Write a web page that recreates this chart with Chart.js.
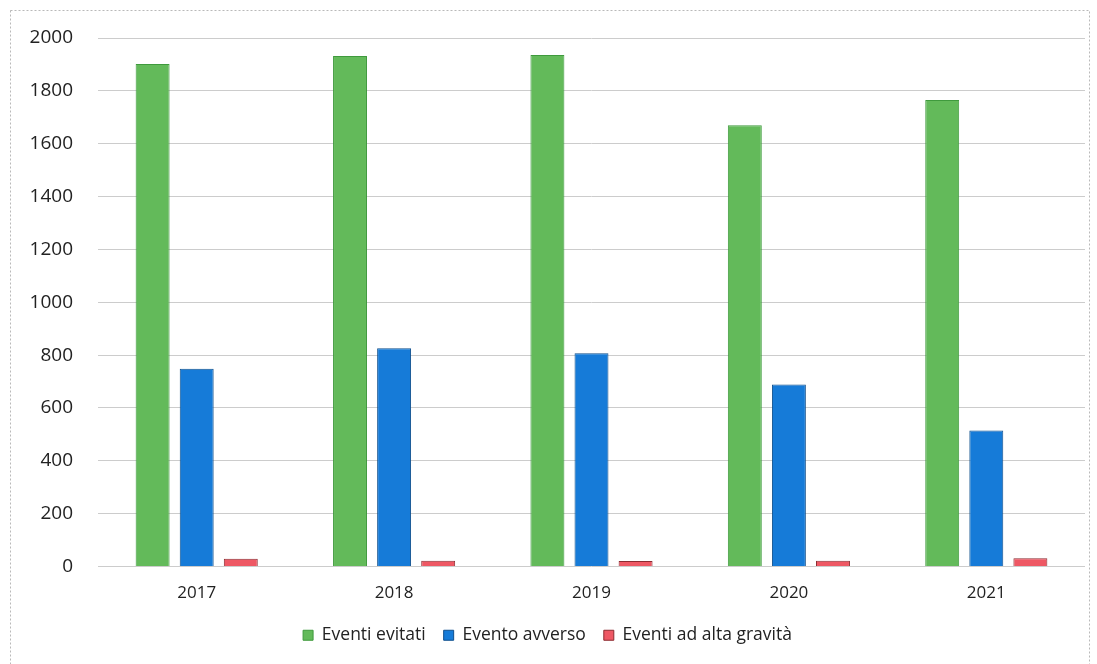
<!DOCTYPE html>
<html lang="it">
<head>
<meta charset="utf-8">
<title>Eventi 2017–2021</title>
<script src="https://cdn.jsdelivr.net/npm/chart.js@4/dist/chart.umd.min.js"></script>
<style>
  html, body { margin: 0; padding: 0; background: #ffffff; }
  #wrap { position: relative; width: 1097px; height: 664px; }
</style>
</head>
<body>
<div id="wrap"><canvas id="chart" width="1097" height="664"></canvas></div>
<script>
// Anni sull'asse delle categorie
const anni = ['2017', '2018', '2019', '2020', '2021'];

// Serie di valori per anno
const eventiEvitati = [1902, 1932, 1936, 1670, 1765];
const eventoAvverso = [748, 826, 807, 689, 515];
const eventiAltaGravita = [29, 22, 21, 22, 31];

// Etichette delle serie
const nomiSerie = ['Eventi evitati', 'Evento avverso', 'Eventi ad alta gravità'];

// Cornice esterna tratteggiata attorno al grafico
const cornice = {
  id: 'cornice',
  beforeDraw(chart) {
    const ctx = chart.ctx;
    ctx.save();
    ctx.strokeStyle = '#b9b9b9';
    ctx.lineWidth = 1;
    ctx.setLineDash([2, 2]);
    ctx.strokeRect(10.5, 10.5, 1079, 670);
    ctx.restore();
  }
};

const font = '"Open Sans", "Liberation Sans", sans-serif';

new Chart(document.getElementById('chart'), {
  type: 'bar',
  data: {
    labels: anni,
    datasets: [
      {
        label: nomiSerie[0],
        data: eventiEvitati,
        backgroundColor: '#63ba5a',
        borderColor: '#3f9a3d',
        borderWidth: 1
      },
      {
        label: nomiSerie[1],
        data: eventoAvverso,
        backgroundColor: '#167bd8',
        borderColor: '#0f4f8c',
        borderWidth: 1
      },
      {
        label: nomiSerie[2],
        data: eventiAltaGravita,
        backgroundColor: '#ee5864',
        borderColor: '#8c2b30',
        borderWidth: 1
      }
    ]
  },
  options: {
    responsive: false,
    animation: false,
    categoryPercentage: 0.67,
    barPercentage: 0.77,
    layout: { padding: { top: 38, right: 12, bottom: 10, left: 10 } },
    plugins: {
      legend: {
        position: 'bottom',
        labels: {
          boxWidth: 10,
          boxHeight: 10,
          padding: 18,
          color: '#222',
          font: { family: font, size: 17.5 }
        }
      },
      tooltip: { enabled: false }
    },
    scales: {
      x: {
        afterFit(scale) { scale.height = 42; },
        grid: { display: false, drawTicks: false },
        border: { display: false },
        ticks: { color: '#222', padding: 16, font: { family: font, size: 17 } }
      },
      y: {
        min: 0,
        max: 2000,
        afterFit(scale) { scale.width = 88; },
        grid: { color: '#cccccc', lineWidth: 1, drawTicks: false },
        border: { display: false },
        ticks: {
          stepSize: 200,
          padding: 25,
          color: '#222',
          font: { family: font, size: 19 },
          callback: (v) => String(v)
        }
      }
    }
  },
  plugins: [cornice]
});
</script>
</body>
</html>
